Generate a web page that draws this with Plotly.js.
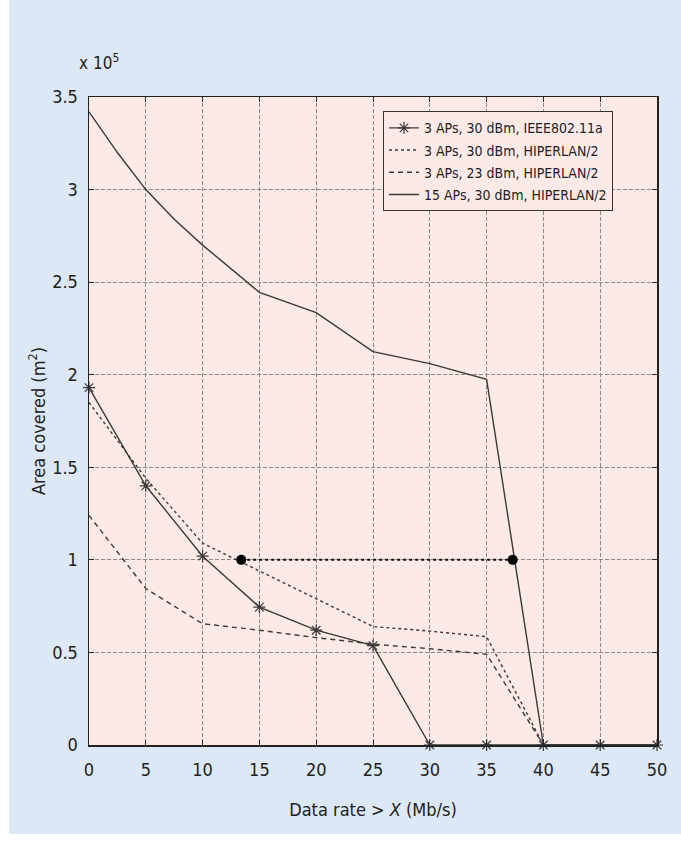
<!DOCTYPE html>
<html>
<head>
<meta charset="utf-8">
<script src="https://cdn.plot.ly/plotly-3.0.1.min.js"></script>
<style>
  html, body { margin: 0; padding: 0; background: #ffffff; }
  #panel { position: absolute; left: 9px; top: 0px; width: 672px; height: 834px; background: #dce8f5; }
  #chart { position: absolute; left: 0; top: 0; width: 681px; height: 846px; }
</style>
</head>
<body>
<div id="panel"></div>
<div id="chart"></div>
<script>
// Data rate thresholds (Mb/s)
const dataRate = [0, 5, 10, 15, 20, 25, 30, 35, 40, 45, 50];
// Area covered (x 10^5 m^2)
const ieee3ap30 = [1.93, 1.40, 1.02, 0.745, 0.62, 0.537, 0, 0, 0, 0, 0];
const hiper3ap30 = [1.85, 1.44, 1.09, 0.94, 0.79, 0.64, 0.615, 0.585, 0, 0, 0];
const hiper3ap23 = [1.24, 0.845, 0.655, 0.62, 0.58, 0.545, 0.52, 0.49, 0, 0, 0];
const dataRate15 = [0, 2.5, 5, 7.5, 10, 11, 15, 20, 25, 30, 35, 40, 45, 50];
const hiper15ap30 = [3.42, 3.2, 3.0, 2.84, 2.70, 2.65, 2.445, 2.335, 2.125, 2.06, 1.975, 0, 0, 0];
// Reference line at 1 x 10^5 m^2
const refX = [13.4, 37.3];
const refY = [1, 1];
const seriesNames = [
  '3 APs, 30 dBm, IEEE802.11a',
  '3 APs, 30 dBm, HIPERLAN/2',
  '3 APs, 23 dBm, HIPERLAN/2',
  '15 APs, 30 dBm, HIPERLAN/2'
];
const xTicks = [0, 5, 10, 15, 20, 25, 30, 35, 40, 45, 50];
const yTicks = [0, 0.5, 1, 1.5, 2, 2.5, 3, 3.5];
const yTickText = ['0', '0.5', '1', '1.5', '2', '2.5', '3', '3.5'];

const FONT = '"DejaVu Sans Condensed", "DejaVu Sans", sans-serif';
const LINE = '#3a3a3a';

const traces = [
  {
    x: dataRate, y: ieee3ap30, name: seriesNames[0], legendgroup: 'a', type: 'scatter', mode: 'lines+markers',
    line: { color: LINE, width: 1.4, dash: 'solid' },
    marker: { symbol: 'asterisk-open', size: 10, color: LINE, line: { color: LINE, width: 1.2 } },
    cliponaxis: false
  },
  {
    x: dataRate, y: hiper3ap30, name: seriesNames[1], legendgroup: 'b', type: 'scatter', mode: 'lines',
    line: { color: LINE, width: 1.4, dash: 'dot' }, cliponaxis: false
  },
  {
    x: dataRate, y: hiper3ap23, name: seriesNames[2], legendgroup: 'c', type: 'scatter', mode: 'lines',
    line: { color: LINE, width: 1.4, dash: '5px,4px' }, cliponaxis: false
  },
  {
    x: dataRate15, y: hiper15ap30, name: seriesNames[3], legendgroup: 'd', type: 'scatter', mode: 'lines',
    line: { color: LINE, width: 1.4, dash: 'solid' }, cliponaxis: false
  },
  {
    x: refX, y: refY, type: 'scatter', mode: 'lines+markers', showlegend: false,
    line: { color: '#111', width: 2, dash: 'dot' },
    marker: { symbol: 'circle', size: 10, color: '#000' }
  }
];

const layout = {
  width: 681, height: 846,
  margin: { l: 89, r: 24, t: 97, b: 101 },
  paper_bgcolor: 'rgba(0,0,0,0)',
  plot_bgcolor: '#fdeae7',
  font: { family: FONT, size: 17, color: '#222' },
  showlegend: true,
  legend: {
    x: 0.9225, xanchor: 'right', y: 0.978, yanchor: 'top',
    bgcolor: '#fdeae7', bordercolor: '#333', borderwidth: 1,
    font: { family: FONT, size: 14, color: '#222' },
    itemwidth: 30, tracegroupgap: 1, traceorder: 'grouped'
  },
  xaxis: {
    range: [0, 50], tickvals: xTicks, ticktext: xTicks.map(String),
    ticks: 'inside', ticklen: 5, tickcolor: '#222', mirror: 'ticks',
    showline: true, linecolor: '#222', linewidth: 1.5,
    showgrid: true, gridcolor: '#8a8a8a', gridwidth: 1, griddash: '4px,2px',
    zeroline: false, ticklabelstandoff: 8,
    tickfont: { family: FONT, size: 18, color: '#222' },
    title: { text: 'Data rate &gt; <i>X</i> (Mb/s)', font: { family: FONT, size: 18, color: '#222' }, standoff: 24 }
  },
  yaxis: {
    range: [0, 3.5], tickvals: yTicks, ticktext: yTickText,
    ticks: 'inside', ticklen: 5, tickcolor: '#222', mirror: 'ticks',
    showline: true, linecolor: '#222', linewidth: 1.5,
    showgrid: true, gridcolor: '#8a8a8a', gridwidth: 1, griddash: '4px,2px',
    zeroline: false, ticklabelstandoff: 6,
    tickfont: { family: FONT, size: 18, color: '#222' },
    title: { text: 'Area covered (m<sup>2</sup>)', font: { family: FONT, size: 18, color: '#222' }, standoff: 2 }
  },
  annotations: [
    {
      xref: 'paper', yref: 'paper', x: -0.021, y: 1.054, xanchor: 'left', yanchor: 'middle',
      text: 'x 10<sup>5</sup>', showarrow: false, font: { family: FONT, size: 17, color: '#222' }
    }
  ]
};

Plotly.newPlot('chart', traces, layout, { staticPlot: true, displayModeBar: false });
</script>
</body>
</html>
